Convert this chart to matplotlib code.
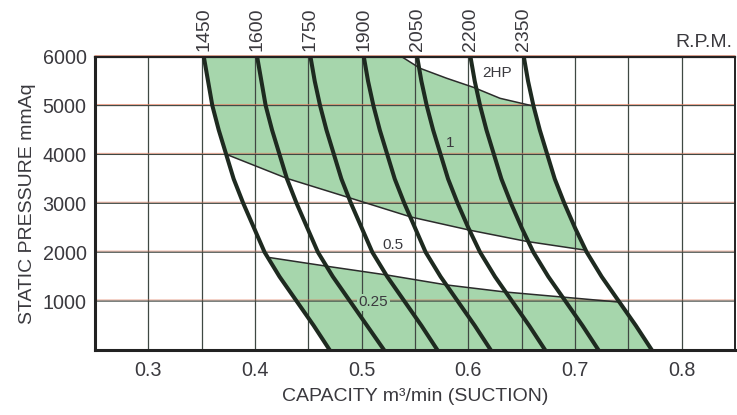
import numpy as np
import matplotlib
matplotlib.use('Agg')
import matplotlib.pyplot as plt
import matplotlib.transforms as mtransforms
from matplotlib.patches import Polygon

plt.rcParams['font.family'] = ['Liberation Sans', 'DejaVu Sans']

# ---------------- data ----------------
pressure = [0, 500, 1000, 1500, 2000, 2500, 3000, 3500, 4000, 4500, 5000, 5500, 6000]

rpm_labels = ['1450', '1600', '1750', '1900', '2050', '2200', '2350']
cap_1450 = [0.470, 0.455, 0.439, 0.423, 0.409, 0.399, 0.389, 0.380, 0.373, 0.366, 0.360, 0.356, 0.352]
cap_1600 = [0.521, 0.505, 0.489, 0.473, 0.459, 0.449, 0.439, 0.430, 0.423, 0.416, 0.410, 0.406, 0.402]
cap_1750 = [0.571, 0.556, 0.540, 0.524, 0.510, 0.500, 0.490, 0.481, 0.474, 0.467, 0.461, 0.456, 0.452]
cap_1900 = [0.621, 0.606, 0.590, 0.574, 0.560, 0.550, 0.540, 0.531, 0.524, 0.517, 0.511, 0.506, 0.502]
cap_2050 = [0.672, 0.657, 0.641, 0.625, 0.611, 0.600, 0.590, 0.581, 0.574, 0.567, 0.561, 0.556, 0.552]
cap_2200 = [0.722, 0.707, 0.691, 0.675, 0.661, 0.650, 0.640, 0.631, 0.624, 0.617, 0.611, 0.606, 0.602]
cap_2350 = [0.772, 0.757, 0.741, 0.725, 0.711, 0.700, 0.690, 0.681, 0.674, 0.667, 0.661, 0.656, 0.652]
rpm_curves = [cap_1450, cap_1600, cap_1750, cap_1900, cap_2050, cap_2200, cap_2350]

# power boundary lines
line_2hp_cap = [0.5375, 0.5547, 0.5797, 0.6047, 0.6297, 0.659]
line_2hp_pres = [6000, 5763, 5559, 5374, 5149, 5000]
line_1hp_cap = [0.3734, 0.4300, 0.4891, 0.5463, 0.6016, 0.6550, 0.709]
line_1hp_pres = [4000, 3510, 3110, 2720, 2450, 2220, 2045]
line_05hp_cap = [0.414, 0.4703, 0.5238, 0.580, 0.6344, 0.6878, 0.7403]
line_05hp_pres = [1890, 1704, 1534, 1330, 1187, 1084, 982]

hp_labels = ['2HP', '1', '0.5', '0.25']
hp_label_cap = [0.627, 0.583, 0.529, 0.511]
hp_label_pres = [5660, 4230, 2150, 975]

x_ticks = [0.3, 0.4, 0.5, 0.6, 0.7, 0.8]
x_ticklabels = ['0.3', '0.4', '0.5', '0.6', '0.7', '0.8']
y_ticks = [1000, 2000, 3000, 4000, 5000, 6000]
y_ticklabels = ['1000', '2000', '3000', '4000', '5000', '6000']

# ---------------- style ----------------
GREEN = '#a6d6ac'
CURVE = '#1e2a20'
TEXT = '#3a393e'
GRID_DARK = '#3f4843'
GRID_RED = '#e07a5c'

fig = plt.figure(figsize=(7.37, 4.15), dpi=100)
fig.patch.set_facecolor('white')
ax = fig.add_axes([95 / 737, 1 - 350 / 415, 640 / 737, (350 - 56.7) / 415])
ax.set_xlim(0.25, 0.85)
ax.set_ylim(0, 6000)


def seg(xs, y_from, y_to, n=80):
    ys = np.linspace(y_from, y_to, n)
    return np.interp(ys, pressure, xs), ys

# upper green band (1 HP)
pts = [(cap_1450[-1], 6000)]
pts += list(zip(line_2hp_cap, line_2hp_pres))
sx, sy = seg(cap_2350, line_2hp_pres[-1], line_1hp_pres[-1])
pts += list(zip(sx, sy))
pts += list(zip(line_1hp_cap[::-1], line_1hp_pres[::-1]))
sx, sy = seg(cap_1450, line_1hp_pres[0], 6000)
pts += list(zip(sx, sy))
ax.add_patch(Polygon(pts, closed=True, facecolor=GREEN, edgecolor='none', zorder=1))

# lower green band (0.25 HP)
pts = list(zip(line_05hp_cap, line_05hp_pres))
sx, sy = seg(cap_2350, line_05hp_pres[-1], 0)
pts += list(zip(sx, sy))
sx, sy = seg(cap_1450, 0, line_05hp_pres[0])
pts += list(zip(sx, sy))
ax.add_patch(Polygon(pts, closed=True, facecolor=GREEN, edgecolor='none', zorder=1))

# grid
for gx in np.arange(0.30, 0.849, 0.05):
    ax.axvline(gx, color=GRID_DARK, lw=0.9, zorder=2)
red_tr = mtransforms.offset_copy(ax.get_yaxis_transform(), fig=fig, x=0, y=0.8, units='points')
for gy in [1000, 2000, 3000, 4000, 5000, 6000]:
    ax.plot([0, 1], [gy, gy], transform=red_tr, color=GRID_RED, lw=0.7, alpha=0.7,
            zorder=2, clip_on=False, snap=False)
    ax.plot([0, 1], [gy, gy], transform=ax.get_yaxis_transform(), color=GRID_DARK, lw=0.8,
            zorder=2, snap=False)

# power lines
for cx, cy in [(line_2hp_cap, line_2hp_pres), (line_1hp_cap, line_1hp_pres), (line_05hp_cap, line_05hp_pres)]:
    ax.plot(cx, cy, color='#2b2b2b', lw=1.1, zorder=3, solid_capstyle='butt')

# rpm curves
for cap, lab in zip(rpm_curves, rpm_labels):
    ax.plot(cap, pressure, color=CURVE, lw=2.9, zorder=4, solid_joinstyle='round')
    ax.annotate(lab, xy=(cap[-1], 6000), xytext=(0, 4), textcoords='offset points',
                rotation=90, ha='center', va='bottom', fontsize=14, color=TEXT,
                annotation_clip=False)

ax.annotate('R.P.M.', xy=(1, 1), xycoords='axes fraction', xytext=(-2, 4),
            textcoords='offset points', ha='right', va='bottom', fontsize=14, color=TEXT)

for lab, cx, cy in zip(hp_labels, hp_label_cap, hp_label_pres):
    kw = {}
    if lab == '0.25':
        kw['bbox'] = dict(facecolor=GREEN, edgecolor='none', pad=1.0)
    ax.text(cx, cy, lab, ha='center', va='center', fontsize=11, color=TEXT, zorder=3.5, **kw)

# axes / ticks
ax.set_xticks(x_ticks)
ax.set_xticklabels(x_ticklabels)
ax.set_yticks(y_ticks)
ax.set_yticklabels(y_ticklabels)
ax.tick_params(axis='both', length=0, labelsize=14.2, colors=TEXT)
ax.tick_params(axis='x', pad=8)
ax.tick_params(axis='y', pad=6)
ax.set_xlabel('CAPACITY m\u00b3/min (SUCTION)', fontsize=14, color=TEXT, labelpad=6)
ax.set_ylabel('STATIC PRESSURE mmAq', fontsize=14, color=TEXT, labelpad=5)

for side, lw in [('left', 2.2), ('bottom', 2.2), ('right', 1.4), ('top', 1.6)]:
    ax.spines[side].set_linewidth(lw)
    ax.spines[side].set_color('#222222')
    ax.spines[side].set_zorder(5)

fig.savefig('out.png', dpi=100, facecolor='white')
